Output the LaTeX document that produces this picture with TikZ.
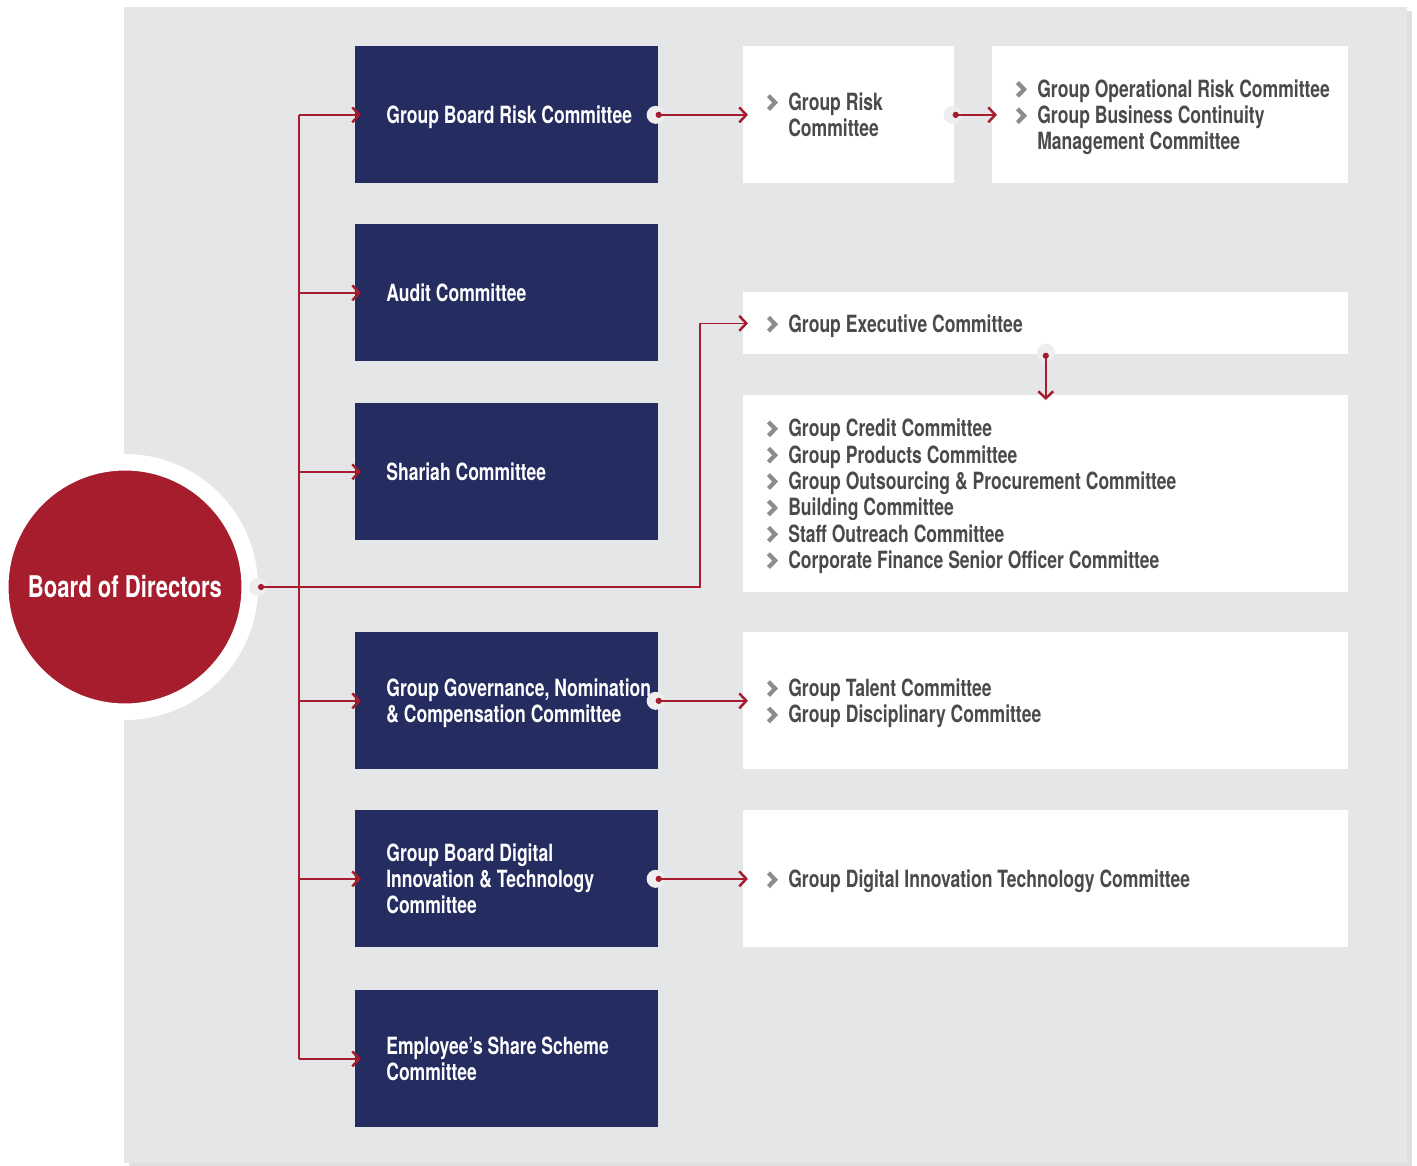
\documentclass[tikz,border=0pt]{standalone}
\usepackage{fontspec}
\setmainfont{TeX Gyre Heros}[FakeStretch=0.74]
\usetikzlibrary{arrows.meta,shadows}

\definecolor{bodred}{RGB}{166,30,46}
\definecolor{navy}{RGB}{36,44,96}
\definecolor{panel}{RGB}{229,230,232}
\definecolor{txtgray}{RGB}{74,74,77}
\definecolor{chevgray}{RGB}{140,140,143}
\definecolor{halo}{RGB}{238,238,240}

\newcommand{\chev}{\makebox[12.5pt][l]{\tikz[baseline=0pt]\draw[chevgray,line width=2.4pt,line join=miter] (0pt,0.6pt) -- (3.8pt,4.5pt) -- (0pt,8.4pt);}}
\newcommand{\chevskip}{\hspace*{12.5pt}}
\newcommand{\boxlines}[2]{\raisebox{-2pt}[\height][\depth]{\makebox[#1][l]{\begin{tabular}{@{}l@{}}#2\end{tabular}}}}

\begin{document}
\begin{tikzpicture}[x=0.02cm,y=-0.02cm,
    every node/.style={font=\fontsize{13.5}{15}\selectfont\bfseries},
    navybox/.style={fill=navy, text=white, anchor=north west,
      minimum width=6.06cm, minimum height=2.74cm,
      inner xsep=0.62cm, inner ysep=0pt},
    listbox/.style={fill=white, text=txtgray, anchor=north west,
      inner xsep=0.46cm, inner ysep=0pt},
    conn/.style={bodred, line width=0.85pt},
    >={Straight Barb[length=4pt,width=8.5pt,line width=1.4pt]}]
  \useasboundingbox (0,0) rectangle (1417,1166);
  \fill[panel, drop shadow={shadow xshift=0.1cm,shadow yshift=-0.08cm,opacity=0.25}] (124,7) rectangle (1407,1163);

  \node[circle, fill=bodred, draw=white, line width=0.33cm, minimum size=4.99cm,
    text=white, font=\fontsize{17}{20}\selectfont\bfseries] (bod) at (125,587) {Board of Directors};

  % board committees
  \node[navybox] (gbrc) at (355,46) {\boxlines{4.82cm}{Group Board Risk Committee}};
  \node[navybox] (audit) at (355,224) {\boxlines{4.82cm}{Audit Committee}};
  \node[navybox] (shariah) at (355,403) {\boxlines{4.82cm}{Shariah Committee}};
  \node[navybox] (ggnc) at (355,632) {\boxlines{4.82cm}{Group Governance, Nomination\\\& Compensation Committee}};
  \node[navybox] (gbdit) at (355,810) {\boxlines{4.82cm}{Group Board Digital\\Innovation \& Technology\\Committee}};
  \node[navybox] (esss) at (355,990) {\boxlines{4.82cm}{Employee’s Share Scheme\\Committee}};

  % management committees
  \node[listbox, minimum width=4.22cm, minimum height=2.74cm] (grc) at (743,46)
    {\boxlines{3.3cm}{\chev Group Risk\\\chevskip Committee}};
  \node[listbox, minimum width=7.12cm, minimum height=2.74cm] (gorc) at (992,46)
    {\boxlines{6.2cm}{\chev Group Operational Risk Committee\\\chev Group Business Continuity\\\chevskip Management Committee}};
  \node[listbox, minimum width=12.1cm, minimum height=1.24cm] (gec) at (743,292)
    {\boxlines{11.18cm}{\chev Group Executive Committee}};
  \node[listbox, minimum width=12.1cm, minimum height=3.94cm] (gcc) at (743,395)
    {\boxlines{11.18cm}{\chev Group Credit Committee\\\chev Group Products Committee\\\chev Group Outsourcing \& Procurement Committee\\
     \chev Building Committee\\\chev Staff Outreach Committee\\\chev Corporate Finance Senior Officer Committee}};
  \node[listbox, minimum width=12.1cm, minimum height=2.74cm] (gtc) at (743,632)
    {\boxlines{11.18cm}{\chev Group Talent Committee\\\chev Group Disciplinary Committee}};
  \node[listbox, minimum width=12.1cm, minimum height=2.74cm] (gdit) at (743,810)
    {\boxlines{11.18cm}{\chev Group Digital Innovation Technology Committee}};

  % halos behind the start dots
  \fill[halo] (bod.east) circle (0.18cm);
  \foreach \n in {gbrc,ggnc,gbdit}
    \fill[halo] ([xshift=-0.06cm]\n.east) circle (0.18cm);
  \fill[halo] ([xshift=-0.04cm]grc.east) circle (0.18cm);
  \fill[halo] ([yshift=0.04cm]gec.south) circle (0.18cm);

  % trunk and branches
  \draw[conn] ([xshift=-1.12cm]gbrc.west) -- ([xshift=-1.12cm]esss.west);
  \foreach \n in {gbrc,audit,shariah,ggnc,gbdit,esss}
    \draw[conn,->] ([xshift=-1.12cm]\n.west) -- ([xshift=0.12cm]\n.west);
  \draw[conn,{Circle[length=3.5pt]}->] (bod.east) -- ++(442,0) |- ([xshift=0.1cm]gec.west);

  \foreach \a/\b in {gbrc/grc,ggnc/gtc,gbdit/gdit}
    \draw[conn,{Circle[length=3.5pt]}->] ([xshift=-0.06cm]\a.east) -- ([xshift=0.1cm]\b.west |- \a.east);
  \draw[conn,{Circle[length=3.5pt]}->] ([xshift=-0.04cm]grc.east) -- ([xshift=0.1cm]gorc.west);
  \draw[conn,{Circle[length=3.5pt]}->] ([yshift=0.04cm]gec.south) -- ([yshift=-0.1cm]gcc.north);
\end{tikzpicture}
\end{document}
